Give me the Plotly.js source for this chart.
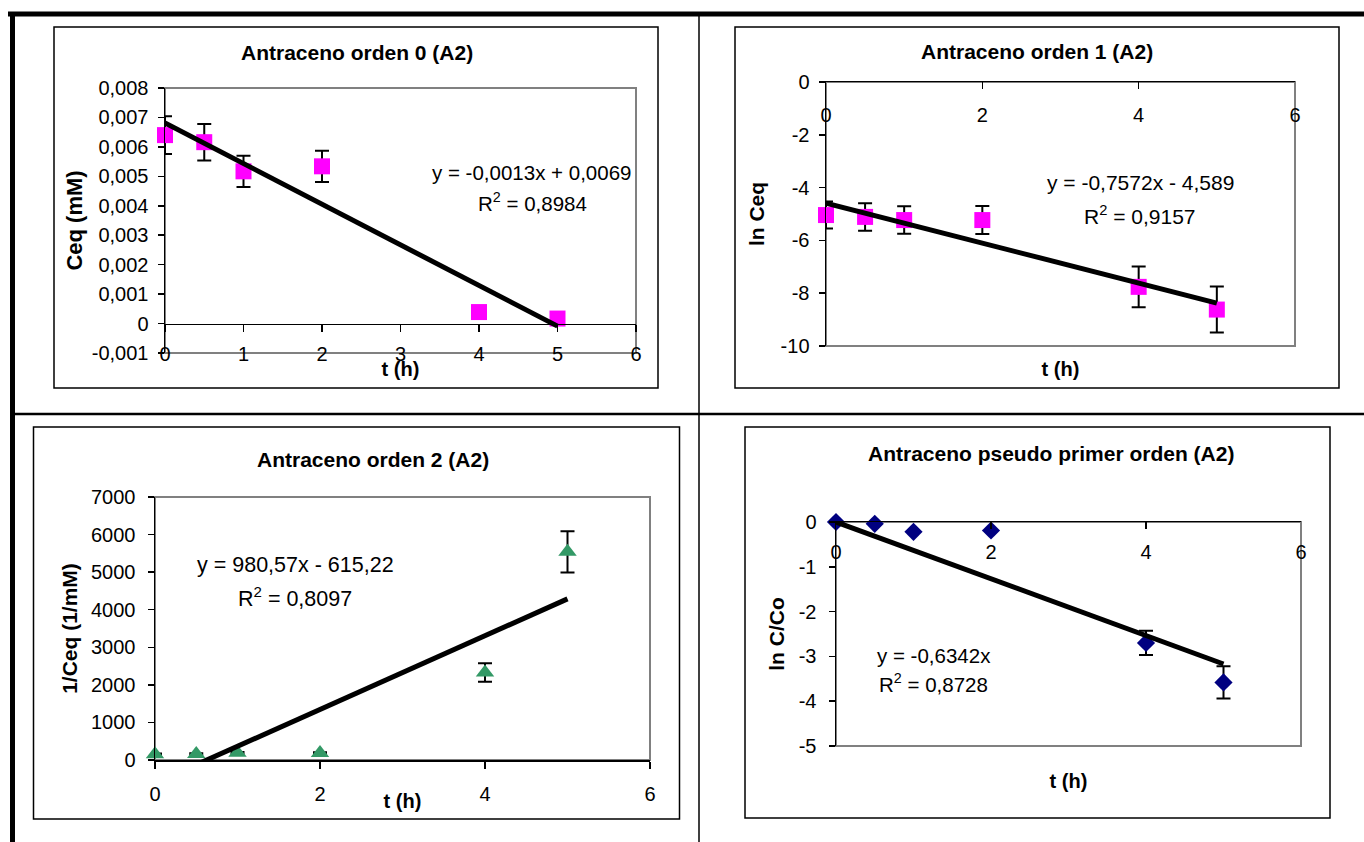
<!DOCTYPE html>
<html>
<head>
<meta charset="utf-8">
<script src="https://cdn.plot.ly/plotly-3.0.1.min.js"></script>
<style>
html,body{margin:0;padding:0;background:#ffffff;}
#chart{width:1364px;height:842px;}
</style>
</head>
<body>
<div id="chart"></div>
<script>
// ---------------- DATA ----------------
const tHours = [0, 0.5, 1, 2, 4, 5];

const ceqMM    = [0.0064, 0.00616, 0.00517, 0.00534, 0.00039, 0.00017];
const ceqErr   = [0.00064, 0.00062, 0.00053, 0.00053, 0.00005, 0.00004];

const lnCeq    = [-5.04, -5.11, -5.23, -5.23, -7.76, -8.62];
const lnCeqErr = [0.51, 0.52, 0.52, 0.53, 0.77, 0.87];

const invCeq    = [156, 162, 193, 187, 2330, 5540];
const invCeqErr = [18, 18, 20, 20, 245, 550];

const lnCC0    = [0, -0.04, -0.22, -0.19, -2.70, -3.58];
const lnCC0Err = [0, 0, 0, 0, 0.27, 0.36];

const chartTitles = ['Antraceno orden 0 (A2)', 'Antraceno orden 1 (A2)',
                     'Antraceno orden 2 (A2)', 'Antraceno pseudo primer orden (A2)'];
const yTitles = ['Ceq (mM)', 'ln Ceq', '1/Ceq (1/mM)', 'ln C/Co'];
const xTitle = 't (h)';
const equations = ['y = -0,0013x + 0,0069', 'y = -0,7572x - 4,589',
                   'y = 980,57x - 615,22', 'y = -0,6342x'];
const r2Labels = ['R<sup>2</sup> = 0,8984', 'R<sup>2</sup> = 0,9157',
                  'R<sup>2</sup> = 0,8097', 'R<sup>2</sup> = 0,8728'];

const xTicksA = [0, 1, 2, 3, 4, 5, 6];
const xTickTextA = ['0', '1', '2', '3', '4', '5', '6'];
const xTicksB = [0, 2, 4, 6];
const xTickTextB = ['0', '2', '4', '6'];

const yTicks1 = [-0.001, 0, 0.001, 0.002, 0.003, 0.004, 0.005, 0.006, 0.007, 0.008];
const yTickText1 = ['-0,001', '0', '0,001', '0,002', '0,003', '0,004', '0,005', '0,006', '0,007', '0,008'];
const yTicks2 = [-10, -8, -6, -4, -2, 0];
const yTickText2 = ['-10', '-8', '-6', '-4', '-2', '0'];
const yTicks3 = [0, 1000, 2000, 3000, 4000, 5000, 6000, 7000];
const yTickText3 = ['0', '1000', '2000', '3000', '4000', '5000', '6000', '7000'];
const yTicks4 = [-5, -4, -3, -2, -1, 0];
const yTickText4 = ['-5', '-4', '-3', '-2', '-1', '0'];

// ---------------- HELPERS ----------------
const W = 1364, H = 842;
const px = v => v / W;
const py = v => 1 - v / H;
const FONT = 'Liberation Sans, Arial, sans-serif';

function linFit(x, y) {
  const n = x.length;
  const mx = x.reduce((a, b) => a + b, 0) / n;
  const my = y.reduce((a, b) => a + b, 0) / n;
  let sxy = 0, sxx = 0;
  for (let i = 0; i < n; i++) { sxy += (x[i] - mx) * (y[i] - my); sxx += (x[i] - mx) * (x[i] - mx); }
  const slope = sxy / sxx;
  return {slope: slope, intercept: my - slope * mx};
}
function originFit(x, y) {
  let sxy = 0, sxx = 0;
  for (let i = 0; i < x.length; i++) { sxy += x[i] * y[i]; sxx += x[i] * x[i]; }
  return {slope: sxy / sxx, intercept: 0};
}
function trend(x, y, fit, xa, ya) {
  const xs = [Math.min(...x), Math.max(...x)];
  return {type: 'scatter', mode: 'lines', x: xs, y: xs.map(v => fit.intercept + fit.slope * v),
          xaxis: xa, yaxis: ya, line: {color: '#000000', width: 5},
          showlegend: false, hoverinfo: 'skip'};
}
function pts(x, y, err, xa, ya, symbol, color, size) {
  return {type: 'scatter', mode: 'markers', x: x, y: y, xaxis: xa, yaxis: ya, cliponaxis: false,
          marker: {symbol: symbol, color: color, size: size, line: {width: 0}},
          error_y: {type: 'data', array: err, visible: true, color: '#000000', thickness: 2, width: 7},
          showlegend: false, hoverinfo: 'skip'};
}

// ---------------- TRACES ----------------
const traces = [
  pts(tHours, ceqMM, ceqErr, 'x', 'y', 'square', '#FF00FF', 16),
  trend(tHours, ceqMM, linFit(tHours, ceqMM), 'x5', 'y'),
  pts(tHours, lnCeq, lnCeqErr, 'x2', 'y2', 'square', '#FF00FF', 16),
  trend(tHours, lnCeq, linFit(tHours, lnCeq), 'x6', 'y2'),
  pts(tHours, invCeq, invCeqErr, 'x3', 'y3', 'triangle-up', '#339966', 16),
  trend(tHours, invCeq, linFit(tHours, invCeq), 'x7', 'y3'),
  pts(tHours, lnCC0, lnCC0Err, 'x4', 'y4', 'diamond', '#000080', 14),
  trend(tHours, lnCC0, originFit(tHours, lnCC0), 'x8', 'y4')
];

// ---------------- LAYOUT ----------------
const dom = {
  x1: [px(165), px(636)], y1: [py(353), py(88)],
  x2: [px(826), px(1295)], y2: [py(346), py(82)],
  x3: [px(155), px(650)], y3: [py(760), py(497)],
  x4: [px(836), px(1301)], y4: [py(746), py(522)]
};
const yRange1 = [-0.001, 0.008];
const zeroPos1 = dom.y1[0] + (0 - yRange1[0]) / (yRange1[1] - yRange1[0]) * (dom.y1[1] - dom.y1[0]);

const tickFont = {family: FONT, size: 20, color: '#000000'};
const axTitleFont = (s) => ({family: FONT, size: s, color: '#000000', weight: 'bold'});

function mainX(domain, anchor, standoff, withLine) {
  return {domain: domain, range: [0, 6], anchor: anchor, side: 'bottom',
          showline: !!withLine, linecolor: '#000000', linewidth: 1.5,
          ticks: withLine ? 'outside' : '', ticklen: 7, tickwidth: 1.5, tickcolor: '#000000',
          tickvals: xTicksB, showticklabels: false, showgrid: false, zeroline: false,
          title: {text: xTitle, font: axTitleFont(20), standoff: standoff}};
}
function yAx(domain, anchor, range, tv, tt, title, tsize, lstand, tstand) {
  return {domain: domain, range: range, anchor: anchor, showline: true, linecolor: '#000000', linewidth: 1.5,
          ticks: 'outside', ticklen: 6, tickwidth: 1.5, tickcolor: '#000000',
          tickvals: tv, ticktext: tt, tickfont: tickFont, ticklabelstandoff: lstand,
          showgrid: false, zeroline: false,
          title: {text: title, font: axTitleFont(tsize), standoff: tstand}};
}

const layout = {
  width: W, height: H, autosize: false,
  margin: {l: 0, r: 0, t: 0, b: 0, pad: 0},
  paper_bgcolor: '#ffffff', plot_bgcolor: '#ffffff',
  font: {family: FONT, color: '#000000'},
  showlegend: false,

  // panel 1
  xaxis: mainX(dom.x1, 'y', 8, false),
  yaxis: yAx(dom.y1, 'x', yRange1, yTicks1, yTickText1, yTitles[0], 22, 5, 3),
  xaxis5: {overlaying: 'x', anchor: 'free', position: zeroPos1, side: 'bottom', range: [0, 6],
           showline: true, linecolor: '#000000', linewidth: 1.5,
           ticks: 'outside', ticklen: 7, tickwidth: 1.5, tickcolor: '#000000',
           tickvals: xTicksA, ticktext: xTickTextA, tickfont: tickFont, ticklabelstandoff: 5,
           showgrid: false, zeroline: false},

  // panel 2
  xaxis2: mainX(dom.x2, 'y2', 15, false),
  yaxis2: yAx(dom.y2, 'x2', [-10, 0], yTicks2, yTickText2, yTitles[1], 21, 5, 10),
  xaxis6: {overlaying: 'x2', anchor: 'y2', side: 'top', range: [0, 6],
           showline: true, linecolor: '#000000', linewidth: 1.5,
           ticks: 'inside', ticklen: 7, tickwidth: 1.5, tickcolor: '#000000',
           ticklabelposition: 'inside', ticklabeloverflow: 'allow', ticklabelstandoff: 20,
           tickvals: xTicksB, ticktext: xTickTextB, tickfont: tickFont,
           showgrid: false, zeroline: false},

  // panel 3
  xaxis3: mainX(dom.x3, 'y3', 26, true),
  yaxis3: yAx(dom.y3, 'x3', [0, 7000], yTicks3, yTickText3, yTitles[2], 21, 8, 7),
  xaxis7: {overlaying: 'x3', anchor: 'y3', side: 'bottom', range: [0, 6],
           showline: false, ticks: '', ticklabelstandoff: 20,
           tickvals: xTicksB, ticktext: xTickTextB, tickfont: tickFont,
           showgrid: false, zeroline: false},

  // panel 4
  xaxis4: mainX(dom.x4, 'y4', 27, false),
  yaxis4: yAx(dom.y4, 'x4', [-5, 0], yTicks4, yTickText4, yTitles[3], 21, 8, 8),
  xaxis8: {overlaying: 'x4', anchor: 'y4', side: 'top', range: [0, 6],
           showline: true, linecolor: '#000000', linewidth: 1.5,
           ticks: 'inside', ticklen: 7, tickwidth: 1.5, tickcolor: '#000000',
           ticklabelposition: 'inside', ticklabeloverflow: 'allow', ticklabelstandoff: 17,
           tickvals: xTicksB, ticktext: xTickTextB, tickfont: tickFont,
           showgrid: false, zeroline: false},

  shapes: [],
  annotations: []
};

// plot-area borders (grey)
[['x', 'y'], ['x2', 'y2'], ['x3', 'y3'], ['x4', 'y4']].forEach(p => {
  layout.shapes.push({type: 'rect', xref: p[0] + ' domain', yref: p[1] + ' domain',
    x0: 0, x1: 1, y0: 0, y1: 1, layer: 'below', line: {color: '#808080', width: 2}, fillcolor: 'rgba(0,0,0,0)'});
});
// chart frames
[[54, 27, 658, 388], [735, 27, 1339, 388], [33.5, 427, 679.5, 819], [745, 427, 1330, 818]].forEach(f => {
  layout.shapes.push({type: 'rect', xref: 'paper', yref: 'paper',
    x0: px(f[0]), x1: px(f[2]), y0: py(f[3]), y1: py(f[1]),
    line: {color: '#000000', width: 1.5}, fillcolor: 'rgba(0,0,0,0)'});
});
// page table rules
const rules = [
  [8, 14, 1364, 14, 5],
  [12.5, 12, 12.5, 842, 5],
  [699, 14, 699, 842, 1.5],
  [10, 414, 1364, 414, 2.5]
];
rules.forEach(r => {
  layout.shapes.push({type: 'line', xref: 'paper', yref: 'paper',
    x0: px(r[0]), y0: py(r[1]), x1: px(r[2]), y1: py(r[3]), line: {color: '#000000', width: r[4]}});
});

// chart titles
[[357, 53], [1037, 52], [373, 459], [1051, 453]].forEach((p, i) => {
  layout.annotations.push({xref: 'paper', yref: 'paper', x: px(p[0]), y: py(p[1]),
    xanchor: 'center', yanchor: 'middle', showarrow: false, text: chartTitles[i],
    font: {family: FONT, size: 21, color: '#000000', weight: 'bold'}});
});
// equations
const eqPos = [[531, 172, 532, 202, 20.5], [1140, 183, 1140, 215, 21], [295, 565, 295, 597, 21.5], [934, 655, 934, 683, 20.5]];
eqPos.forEach((p, i) => {
  layout.annotations.push({xref: 'paper', yref: 'paper', x: px(p[0]), y: py(p[1]),
    xanchor: 'center', yanchor: 'middle', showarrow: false, text: equations[i],
    font: {family: FONT, size: p[4], color: '#000000'}});
  layout.annotations.push({xref: 'paper', yref: 'paper', x: px(p[2]), y: py(p[3]),
    xanchor: 'center', yanchor: 'middle', showarrow: false, text: r2Labels[i],
    font: {family: FONT, size: p[4], color: '#000000'}});
});

Plotly.newPlot('chart', traces, layout, {staticPlot: true, displayModeBar: false});
</script>
</body>
</html>
